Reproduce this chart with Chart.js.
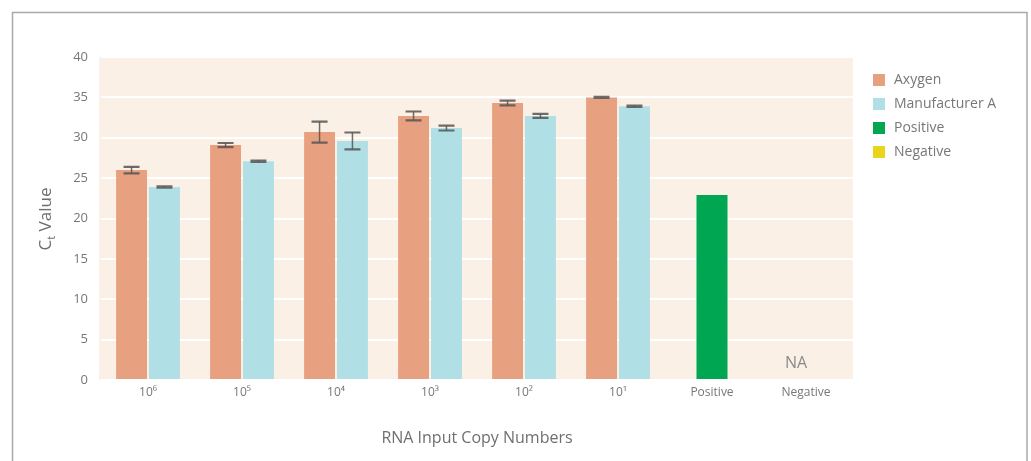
<!DOCTYPE html>
<html>
<head>
<meta charset="utf-8">
<script src="https://cdn.jsdelivr.net/npm/chart.js@4.4.1/dist/chart.umd.min.js"></script>
<style>
  html, body { margin: 0; padding: 0; background: #fff; }
  #wrap { width: 1031px; height: 461px; position: relative; }
</style>
</head>
<body>
<div id="wrap"><canvas id="ctChart" width="1031" height="461"></canvas></div>
<script>
// categories and values
const categories = ["10⁶", "10⁵", "10⁴", "10³", "10²", "10¹", "Positive", "Negative"];
const axygenValues = [26.0, 29.1, 30.7, 32.7, 34.3, 35.0, null, null];
const axygenErrors = [0.4, 0.25, 1.3, 0.55, 0.3, 0.05, null, null];
const manufacturerValues = [23.9, 27.1, 29.6, 31.2, 32.7, 33.9, null, null];
const manufacturerErrors = [0.08, 0.08, 1.05, 0.3, 0.25, 0.08, null, null];
const positiveValues = [null, null, null, null, null, null, 22.9, null];
const negativeValues = [null, null, null, null, null, null, null, null];
const yTicks = [0, 5, 10, 15, 20, 25, 30, 35, 40];

const textColor = "#777777";
const fontFamily = "'Open Sans', 'Noto Sans', sans-serif";

// frame, plot background, error bars, NA label, legend, y title
const decorPlugin = {
  id: "decor",
  beforeDraw(chart) {
    const { ctx, chartArea } = chart;
    ctx.save();
    ctx.fillStyle = "#FAF0E6";
    ctx.fillRect(chartArea.left - 2, chartArea.top, chartArea.right - chartArea.left + 2, chartArea.bottom - chartArea.top);
    ctx.strokeStyle = "#a9a9a9";
    ctx.lineWidth = 1.5;
    ctx.beginPath();
    ctx.moveTo(12.5, 461);
    ctx.lineTo(12.5, 12.5);
    ctx.lineTo(1027, 12.5);
    ctx.lineTo(1027, 461);
    ctx.stroke();
    ctx.restore();
  },
  afterDatasetsDraw(chart) {
    const { ctx } = chart;
    const y = chart.scales.y;
    const x = chart.scales.x;
    const errs = [axygenErrors, manufacturerErrors];
    ctx.save();
    ctx.strokeStyle = "rgba(85,85,85,0.85)";
    errs.forEach((errArr, di) => {
      const meta = chart.getDatasetMeta(di);
      const vals = chart.data.datasets[di].data;
      meta.data.forEach((bar, i) => {
        if (vals[i] == null || errArr[i] == null) return;
        const top = y.getPixelForValue(vals[i] + errArr[i]);
        const bot = y.getPixelForValue(vals[i] - errArr[i]);
        const cx = bar.x;
        ctx.lineWidth = 1.5;
        ctx.beginPath();
        ctx.moveTo(cx, top);
        ctx.lineTo(cx, bot);
        ctx.stroke();
        ctx.lineWidth = 2.2;
        ctx.beginPath();
        ctx.moveTo(cx - 8, top);
        ctx.lineTo(cx + 8, top);
        ctx.moveTo(cx - 8, bot);
        ctx.lineTo(cx + 8, bot);
        ctx.stroke();
      });
    });

    // NA label where negative has no value
    const negIdx = categories.indexOf("Negative");
    if (negativeValues[negIdx] == null) {
      ctx.fillStyle = "#8a8a8a";
      ctx.font = "16px " + fontFamily;
      ctx.textAlign = "center";
      ctx.textBaseline = "middle";
      ctx.fillText("NA", x.getPixelForValue(negIdx) - 10, y.getPixelForValue(0) - 17);
    }

    // legend
    ctx.font = "14px " + fontFamily;
    ctx.textAlign = "left";
    ctx.textBaseline = "middle";
    chart.data.datasets.forEach((ds, i) => {
      const cy = 80 + i * 24;
      ctx.fillStyle = ds.backgroundColor;
      ctx.fillRect(873, cy - 6, 12, 12);
      ctx.fillStyle = textColor;
      ctx.fillText(ds.label, 894, cy);
    });

    // y axis title with subscript t
    ctx.translate(46, 219);
    ctx.rotate(-Math.PI / 2);
    ctx.fillStyle = "#6f6f6f";
    ctx.font = "17px " + fontFamily;
    const wC = ctx.measureText("C").width;
    const wV = ctx.measureText(" Value").width;
    ctx.font = "11px " + fontFamily;
    const wt = ctx.measureText("t").width;
    let sx = -(wC + wt + wV) / 2;
    ctx.font = "17px " + fontFamily;
    ctx.fillText("C", sx, 0);
    ctx.font = "11px " + fontFamily;
    ctx.fillText("t", sx + wC, 6);
    ctx.font = "17px " + fontFamily;
    ctx.fillText(" Value", sx + wC + wt, 0);
    ctx.restore();
  }
};

const common = { maxBarThickness: 31, skipNull: true, borderWidth: 0 };

new Chart(document.getElementById("ctChart"), {
  type: "bar",
  data: {
    labels: categories,
    datasets: [
      { label: "Axygen", data: axygenValues, backgroundColor: "#E8A180", ...common },
      { label: "Manufacturer A", data: manufacturerValues, backgroundColor: "#B0DFE5", ...common },
      { label: "Positive", data: positiveValues, backgroundColor: "#00A651", ...common },
      { label: "Negative", data: negativeValues, backgroundColor: "#E9D51A", ...common }
    ]
  },
  options: {
    responsive: false,
    animation: false,
    devicePixelRatio: 1,
    layout: { padding: { left: 0, right: 178, top: 57, bottom: 0 } },
    datasets: { bar: { categoryPercentage: 0.7, barPercentage: 0.94 } },
    plugins: {
      legend: { display: false },
      tooltip: { enabled: false }
    },
    scales: {
      x: {
        grid: { display: false, drawTicks: false },
        border: { display: false },
        ticks: { color: textColor, font: { family: fontFamily, size: 12 }, padding: 5 },
        title: {
          display: true,
          text: "RNA Input Copy Numbers",
          color: "#6f6f6f",
          font: { family: fontFamily, size: 16 },
          padding: { top: 0, bottom: 13 }
        },
        afterFit(scale) { scale.height = 81; }
      },
      y: {
        min: 0,
        max: 40,
        afterBuildTicks(scale) { scale.ticks = yTicks.map(v => ({ value: v })); },
        grid: { color: "#ffffff", lineWidth: 2, drawTicks: false },
        border: { display: false },
        ticks: { color: textColor, font: { family: fontFamily, size: 13 }, padding: 13 },
        afterFit(scale) { scale.width = 101; }
      }
    }
  },
  plugins: [decorPlugin]
});
</script>
</body>
</html>
